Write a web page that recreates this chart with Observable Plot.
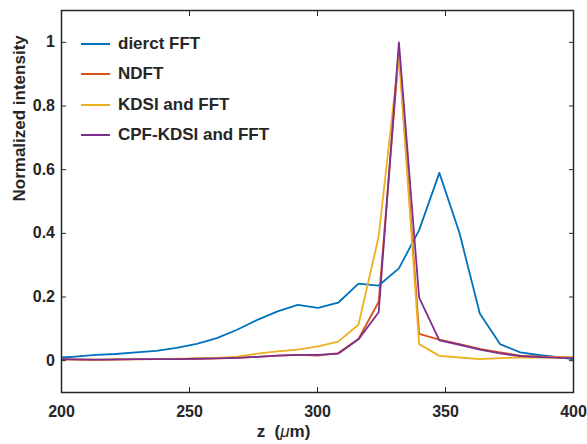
<!DOCTYPE html>
<html><head><meta charset="utf-8">
<script src="https://cdn.jsdelivr.net/npm/d3@7"></script>
<script src="https://cdn.jsdelivr.net/npm/@observablehq/plot@0.6"></script>
<style>
body{margin:0;background:#fff;}
#wrap{position:relative;width:587px;height:444px;font-family:"Liberation Sans",Arial,sans-serif;}
#legend{position:absolute;left:81px;top:0;}
.row{position:absolute;left:0;height:20px;display:flex;align-items:center;white-space:nowrap;font-weight:bold;font-size:17px;color:#262626;}
.sw{width:29px;height:2px;margin-right:8px;}
</style></head>
<body><div id="wrap"></div>
<script>
const z = [200, 205.4, 213.3, 221.2, 229.1, 237.0, 244.9, 252.8, 260.7, 268.6, 276.5, 284.4, 292.3, 300.2, 308.1, 316.0, 323.9, 331.8, 339.7, 347.6, 355.5, 363.4, 371.3, 379.2, 387.1, 395.0, 400];
const directFFT = [0.010, 0.013, 0.018, 0.021, 0.026, 0.031, 0.040, 0.053, 0.071, 0.097, 0.128, 0.155, 0.175, 0.166, 0.182, 0.242, 0.236, 0.290, 0.410, 0.590, 0.400, 0.148, 0.052, 0.026, 0.017, 0.010, 0.004];
const ndft = [0.004, 0.003, 0.002, 0.003, 0.004, 0.005, 0.005, 0.006, 0.007, 0.009, 0.012, 0.016, 0.018, 0.016, 0.024, 0.068, 0.185, 0.970, 0.084, 0.066, 0.052, 0.037, 0.026, 0.016, 0.013, 0.011, 0.010];
const kdsi = [0.005, 0.004, 0.003, 0.004, 0.005, 0.005, 0.006, 0.007, 0.009, 0.013, 0.022, 0.029, 0.035, 0.045, 0.060, 0.113, 0.390, 0.960, 0.052, 0.015, 0.010, 0.005, 0.008, 0.010, 0.010, 0.010, 0.010];
const cpfKdsi = [0.005, 0.004, 0.003, 0.004, 0.005, 0.005, 0.005, 0.006, 0.007, 0.009, 0.012, 0.016, 0.018, 0.018, 0.022, 0.067, 0.152, 1.000, 0.198, 0.064, 0.050, 0.035, 0.023, 0.014, 0.011, 0.009, 0.008];
const seriesNames = ["dierct FFT", "NDFT", "KDSI and FFT", "CPF-KDSI and FFT"];
const seriesColors = ["#0072BD", "#D95319", "#EDB120", "#7E2F8E"];
const xTicks = [200, 250, 300, 350, 400];
const yTicks = [0, 0.2, 0.4, 0.6, 0.8, 1];
const xLabel = "z (μm)";
const yLabel = "Normalized intensity";

const seriesValues = [directFFT, ndft, kdsi, cpfKdsi];
const rows = seriesValues.flatMap((vals, i) => vals.map((v, j) => ({z: z[j], v, s: seriesNames[i]})));
const ink = "#262626";

const plot = Plot.plot({
  width: 587, height: 444,
  marginTop: 10, marginBottom: 52, marginLeft: 61, marginRight: 14,
  style: {fontFamily: "'Liberation Sans', Arial, sans-serif", fontSize: "16px", fontWeight: "bold", color: ink, background: "#fff"},
  x: {domain: [200, 400], label: null, axis: null},
  y: {domain: [-0.1, 1.1], label: null, axis: null},
  color: {domain: seriesNames, range: seriesColors},
  marks: [
    Plot.line(rows, {x: "z", y: "v", stroke: "s", z: "s", strokeWidth: 1.8, clip: true}),
    Plot.axisX(xTicks, {anchor: "bottom", tickSize: -5, tickPadding: 18, stroke: ink, fill: ink, label: null, fontSize: 16, tickFormat: d => String(d)}),
    Plot.axisX(xTicks, {anchor: "top", tickSize: -5, stroke: ink, label: null, tickFormat: () => ""}),
    Plot.axisY(yTicks, {anchor: "left", tickSize: -5, tickPadding: 11.5, stroke: ink, fill: ink, label: null, fontSize: 16, tickFormat: d => String(+d.toFixed(1))}),
    Plot.axisY(yTicks, {anchor: "right", tickSize: -5, stroke: ink, label: null, tickFormat: () => ""}),
    Plot.frame({stroke: ink, strokeWidth: 1.5}),
    Plot.text([yLabel], {text: d => d, frameAnchor: "left", rotate: -90, dx: -42, fontSize: 17, fontWeight: "bold", fill: ink}),
    Plot.text([xLabel], {text: d => d, frameAnchor: "bottom", dx: -34, dy: 44, fontSize: 17, fontWeight: "bold", fill: ink})
  ]
});

const wrap = document.getElementById("wrap");
wrap.appendChild(plot);

// italic mu in the x label
d3.select(plot).selectAll("text").filter(function() { return this.textContent === xLabel; }).each(function() {
  const t = d3.select(this);
  t.text(null);
  t.append("tspan").text("z  (");
  t.append("tspan").attr("font-style", "italic").attr("font-weight", "normal").text("μ");
  t.append("tspan").text("m)");
});

// legend
const legend = document.createElement("div");
legend.id = "legend";
const rowCenters = [43.5, 74, 104.5, 135];
seriesNames.forEach((name, i) => {
  const r = document.createElement("div");
  r.className = "row";
  r.style.top = (rowCenters[i] - 10) + "px";
  const sw = document.createElement("div");
  sw.className = "sw";
  sw.style.background = seriesColors[i];
  const tx = document.createElement("span");
  tx.textContent = name;
  r.appendChild(sw); r.appendChild(tx);
  legend.appendChild(r);
});
wrap.appendChild(legend);
</script>
</body></html>
